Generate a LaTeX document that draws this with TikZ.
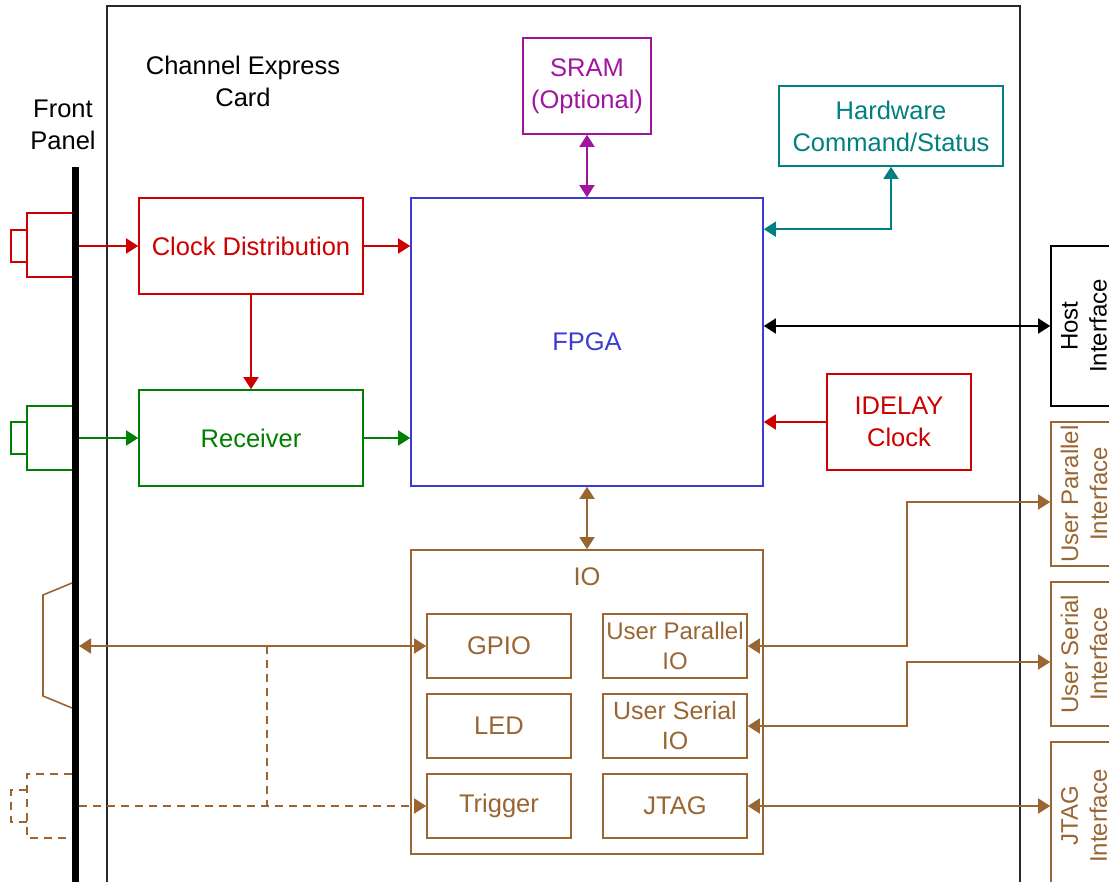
\documentclass[tikz,border=0pt]{standalone}
\usepackage{fontspec}
\setmainfont{Liberation Sans}
\usetikzlibrary{arrows.meta,calc}
\definecolor{cred}{RGB}{204,0,0}
\definecolor{cgreen}{RGB}{0,128,0}
\definecolor{cblue}{RGB}{60,60,210}
\definecolor{cpurple}{RGB}{160,20,160}
\definecolor{cteal}{RGB}{0,128,128}
\definecolor{cbrown}{RGB}{153,102,51}
\definecolor{cgray}{RGB}{40,40,40}
\begin{document}
\begin{tikzpicture}[x=1pt,y=-1pt,
  box/.style={draw, line width=1.6pt, inner sep=0pt, align=center, font=\fontsize{25.5}{32}\selectfont},
  lbl/.style={inner sep=0pt, align=center, font=\fontsize{25.5}{32}\selectfont},
  conn/.style={line width=1.6pt, -{Triangle[length=12pt,width=15pt]}},
  biconn/.style={line width=1.6pt, {Triangle[length=12pt,width=15pt]}-{Triangle[length=12pt,width=15pt]}},
  plug/.style={line width=1.6pt},
  dsh/.style={dash pattern=on 8pt off 6pt},
]
\useasboundingbox (0,0) rectangle (1109,882);

% card outline
\draw[line width=1.6pt, cgray] (107,900) -- (107,6) -- (1020,6) -- (1020,900);
\node[lbl] (cardlbl) at (243,81) {Channel Express\\Card};
\node[lbl] (fplbl) at (63,125) {Front\\Panel};

% front panel bar
\draw[line width=7pt] (75.5,167) -- (75.5,895);
\coordinate (fpClk) at (79,246);
\coordinate (fpRx) at (79,438);
\coordinate (fpGpio) at (79,646);
\coordinate (fpTrig) at (79,806);

% front panel connectors
\draw[plug, cred] (72,213) -- (27,213) -- (27,277) -- (72,277);
\draw[plug, cred] (27,230) -- (11,230) -- (11,262) -- (27,262);
\draw[plug, cgreen] (72,406) -- (27,406) -- (27,470) -- (72,470);
\draw[plug, cgreen] (27,422) -- (11,422) -- (11,454) -- (27,454);
\draw[plug, cbrown] (72,583) -- (43,595) -- (43,696) -- (72,708);
\draw[plug, cbrown, dsh] (72,774) -- (27,774) -- (27,838) -- (72,838);
\draw[plug, cbrown, dsh] (27,790) -- (11,790) -- (11,822) -- (27,822);

% main blocks
\node[box, cred, minimum width=224pt, minimum height=96pt] (clk) at (251,246) {Clock Distribution};
\node[box, cgreen, minimum width=224pt, minimum height=96pt] (rx) at (251,438) {Receiver};
\node[box, cblue, minimum width=352pt, minimum height=288pt] (fpga) at (587,342) {FPGA};
\node[box, cpurple, minimum width=128pt, minimum height=96pt] (sram) at (587,86) {SRAM\\(Optional)};
\node[box, cteal, minimum width=224pt, minimum height=80pt] (hw) at (891,126) {Hardware\\Command/Status};
\node[box, cred, minimum width=144pt, minimum height=96pt] (idelay) at (899,422) {IDELAY\\Clock};

% IO block
\node[box, cbrown, minimum width=352pt, minimum height=304pt] (io) at (587,702) {};
\node[lbl, text=cbrown] (iolbl) at (587,577) {IO};
\node[box, cbrown, minimum width=144pt, minimum height=64pt] (gpio) at (499,646) {GPIO};
\node[box, cbrown, minimum width=144pt, minimum height=64pt] (led) at (499,726) {LED};
\node[box, cbrown, minimum width=144pt, minimum height=64pt] (trig) at (499,806) {Trigger};
\node[box, cbrown, minimum width=144pt, minimum height=64pt, font=\fontsize{24}{30}\selectfont] (upio) at (675,646) {User Parallel\\IO};
\node[box, cbrown, minimum width=144pt, minimum height=64pt, font=\fontsize{25}{30}\selectfont] (usio) at (675,726) {User Serial\\IO};
\node[box, cbrown, minimum width=144pt, minimum height=64pt] (jtagio) at (675,806) {JTAG};

% external interfaces
\node[box, minimum width=66pt, minimum height=160pt] (host) at (1084,326) {};
\node[lbl, rotate=90, font=\fontsize{24}{29}\selectfont] (hostlbl) at (host) {Host\\Interface};
\node[box, cbrown, minimum width=66pt, minimum height=144pt] (upi) at (1084,494) {};
\node[lbl, rotate=90, text=cbrown, font=\fontsize{24}{29}\selectfont] (upilbl) at (upi) {User Parallel\\Interface};
\node[box, cbrown, minimum width=66pt, minimum height=144pt] (usi) at (1084,654) {};
\node[lbl, rotate=90, text=cbrown, font=\fontsize{24}{29}\selectfont] (usilbl) at (usi) {User Serial\\Interface};
\node[box, cbrown, minimum width=66pt, minimum height=160pt] (jtagi) at (1084,822) {};
\node[lbl, rotate=90, text=cbrown, font=\fontsize{24}{29}\selectfont] (jtagilbl) at ($(jtagi)+(0,-6)$) {JTAG\\Interface};

% connectors
\draw[conn, cred] (fpClk) -- (clk.west);
\draw[conn, cred] (clk.east) -- (clk.east -| fpga.west);
\draw[conn, cred] (clk.south) -- (rx.north);
\draw[conn, cgreen] (fpRx) -- (rx.west);
\draw[conn, cgreen] (rx.east) -- (rx.east -| fpga.west);
\draw[biconn, cpurple] (sram.south) -- (fpga.north);
\draw[biconn, cteal] ($(fpga.north east)+(0,32)$) -| (hw.south);
\draw[biconn] (host.west -| fpga.east) -- (host.west);
\draw[conn, cred] (idelay.west) -- (idelay.west -| fpga.east);
\draw[biconn, cbrown] (fpga.south) -- (io.north);
\draw[biconn, cbrown] (fpGpio) -- (gpio.west);
\draw[conn, cbrown, dsh] (fpTrig) -- (trig.west);
\coordinate (jA) at (267,646);
\coordinate (jB) at (267,806);
\draw[line width=1.6pt, cbrown, dsh] (jA) -- (jB);
\draw[biconn, cbrown] (upio.east) -- (907,646) |- ($(upi.west)+(0,8)$);
\draw[biconn, cbrown] (usio.east) -- (907,726) |- ($(usi.west)+(0,8)$);
\draw[biconn, cbrown] (jtagio.east) -- (jtagio.east -| jtagi.west);
\end{tikzpicture}
\end{document}
